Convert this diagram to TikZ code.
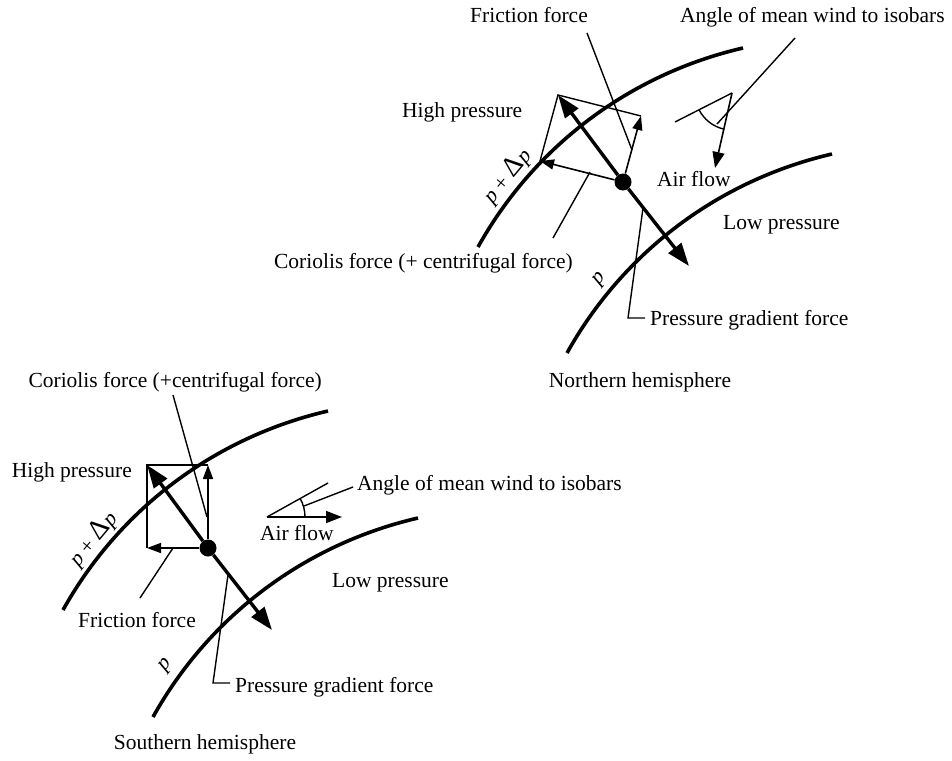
\documentclass[tikz,border=0pt]{standalone}
\usepackage{fontspec}
\setmainfont{Liberation Serif}
\usetikzlibrary{arrows.meta}
\newcommand{\bigdelta}{{\fontsize{28}{28}\selectfont Δ}}
\begin{document}
\begin{tikzpicture}[x=1pt,y=-1pt,
  lbl/.style={inner sep=0pt, font=\fontsize{21.5}{24}\selectfont},
  plbl/.style={inner sep=0pt, rotate=50, font=\fontsize{21.5}{24}\selectfont},
  isobarline/.style={line width=3.6pt},
  vec/.style={line width=1.6pt, -{Triangle[length=14pt,width=10pt]}},
  airvec/.style={line width=1.6pt, -{Triangle[length=16pt,width=12pt]}},
  bigvec/.style={line width=3.4pt, -{Triangle[length=23pt,width=16pt]}},
  leader/.style={line width=1.4pt},
  dotstyle/.style={circle, fill, inner sep=0pt, minimum size=17pt},
  isobar/.pic={\draw[isobarline] (0,0) .. controls (56.4,-101.2) and (152.2,-172.9) .. (265,-199);}
]
\useasboundingbox (0,0) rectangle (952,760);

% ---------------- Northern hemisphere ----------------
\pic at (478,247) {isobar};
\pic at (567,353) {isobar};

\node[dotstyle] (dN) at (623,182) {};
\coordinate (cN) at (540,161);
\coordinate (fN) at (641,116);
\coordinate (rN) at (558,95);
\coordinate (pN) at (689,266);
\draw[leader] (cN) -- (rN) -- (fN);
\draw[vec] (dN) -- (cN);
\draw[vec] (dN) -- (fN);
\draw[bigvec] (dN) -- (rN);
\draw[bigvec] (dN) -- (pN);

% angle of mean wind (N)
\coordinate (vN) at (732,93);
\coordinate (iN) at (675,122);
\coordinate (aN) at (715,168);
\draw[leader] (iN) -- (vN);
\draw[airvec] (vN) -- (aN);
\draw[leader] (vN) ++(103:37) arc[start angle=103, end angle=153, radius=37];

% labels (N)
\node[lbl, anchor=base east] (tFricN) at (588,23) {Friction force};
\node[lbl, anchor=base west] (tAngN) at (680,23) {Angle of mean wind to isobars};
\node[lbl, anchor=base west] (tHighN) at (402,117) {High pressure};
\node[lbl, anchor=base west] (tAirN) at (657,186) {Air flow};
\node[lbl, anchor=base west] (tLowN) at (723,229) {Low pressure};
\node[lbl, anchor=base east] (tCorN) at (573,268) {Coriolis force (+ centrifugal force)};
\node[lbl, anchor=base west] (tPgfN) at (650,325) {Pressure gradient force};
\node[lbl, anchor=base] (tHemN) at (640,387) {Northern hemisphere};
\node[plbl] (tPdpN) at (507,176) {\itshape p\upshape{} + \bigdelta\itshape p};
\node[plbl] (tPN) at (600,280) {\itshape p};

% leaders (N)
\coordinate (lf1N) at (587,33);
\coordinate (lf2N) at (632,150);
\draw[leader] (lf1N) -- (lf2N);
\coordinate (lc1N) at (553,238);
\coordinate (lc2N) at (590,172);
\draw[leader] (lc1N) -- (lc2N);
\coordinate (lp1N) at (643,208);
\coordinate (lp2N) at (628,318);
\coordinate (lp3N) at (645,318);
\draw[leader] (lp1N) -- (lp2N) -- (lp3N);
\coordinate (la1N) at (795,38);
\coordinate (la2N) at (717,124);
\draw[leader] (la1N) -- (la2N);

% ---------------- Southern hemisphere ----------------
\pic at (63,610) {isobar};
\pic at (153,717) {isobar};

\node[dotstyle] (dS) at (208,548) {};
\coordinate (cS) at (208,465);
\coordinate (fS) at (147,548);
\coordinate (rS) at (147,465);
\coordinate (pS) at (272,630);
\draw[leader] (cS) -- (rS) -- (fS);
\draw[vec] (dS) -- (cS);
\draw[vec] (dS) -- (fS);
\draw[bigvec] (dS) -- (rS);
\draw[bigvec] (dS) -- (pS);

% angle of mean wind (S)
\coordinate (vS) at (267,517);
\coordinate (iS) at (328,483);
\coordinate (aS) at (342,517);
\draw[leader] (vS) -- (iS);
\draw[airvec] (vS) -- (aS);
\draw[leader] (vS) ++(-29:38) arc[start angle=-29, end angle=0, radius=38];

% labels (S)
\node[lbl, anchor=base east] (tCorS) at (322,387) {Coriolis force (+centrifugal force)};
\node[lbl, anchor=base east] (tHighS) at (132,477) {High pressure};
\node[lbl, anchor=base west] (tAngS) at (357,490) {Angle of mean wind to isobars};
\node[lbl, anchor=base west] (tAirS) at (260,540) {Air flow};
\node[lbl, anchor=base west] (tLowS) at (332,587) {Low pressure};
\node[lbl, anchor=base west] (tFricS) at (78,627) {Friction force};
\node[lbl, anchor=base west] (tPgfS) at (235,692) {Pressure gradient force};
\node[lbl, anchor=base] (tHemS) at (205,749) {Southern hemisphere};
\node[plbl] (tPdpS) at (93,539) {\itshape p\upshape{} + \bigdelta\itshape p};
\node[plbl] (tPS) at (166,666) {\itshape p};

% leaders (S)
\coordinate (lc1S) at (173,395);
\coordinate (lc2S) at (207,517);
\draw[leader] (lc1S) -- (lc2S);
\coordinate (lf1S) at (140,598);
\coordinate (lf2S) at (173,548);
\draw[leader] (lf1S) -- (lf2S);
\coordinate (lp1S) at (228,575);
\coordinate (lp2S) at (213,683);
\coordinate (lp3S) at (230,683);
\draw[leader] (lp1S) -- (lp2S) -- (lp3S);
\coordinate (la1S) at (304,506);
\coordinate (la2S) at (353,487);
\draw[leader] (la1S) -- (la2S);

\end{tikzpicture}
\end{document}
